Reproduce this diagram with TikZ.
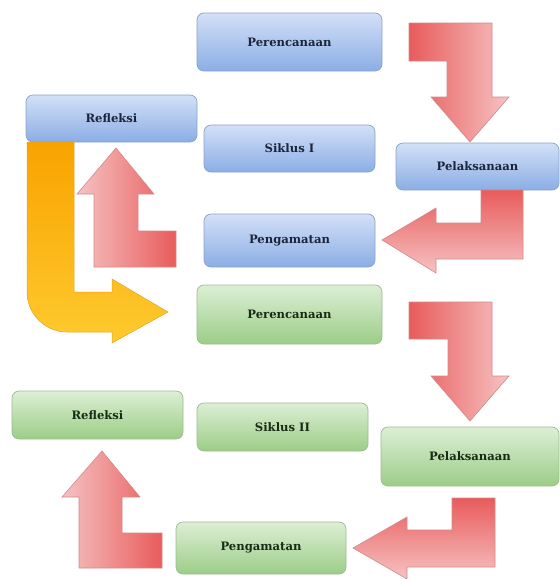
\documentclass[tikz,border=0pt]{standalone}
\usepackage{fontspec}
\setmainfont{DejaVu Serif}
\definecolor{bluetop}{HTML}{D3E0F7}
\definecolor{bluebot}{HTML}{8BAEE5}
\definecolor{blueline}{HTML}{8AA2C8}
\definecolor{bluetext}{HTML}{1B253C}
\definecolor{greentop}{HTML}{DCEFD5}
\definecolor{greenbot}{HTML}{9CCD87}
\definecolor{greenline}{HTML}{9FBA92}
\definecolor{greentext}{HTML}{182C15}
\definecolor{arrred}{HTML}{E95B5B}
\definecolor{arrpale}{HTML}{F6C2C2}
\definecolor{arrline}{HTML}{D08A8A}
\definecolor{ortop}{HTML}{F9A300}
\definecolor{orbot}{HTML}{FECA2E}
\definecolor{orline}{HTML}{E2A32A}
\begin{document}
\begin{tikzpicture}[x=1pt,y=-1pt,
  boxbase/.style={rectangle, rounded corners=7pt, line width=0.7pt, inner sep=0pt,
    font=\fontsize{11.6}{13}\selectfont\bfseries},
  bluebox/.style={boxbase, draw=blueline, top color=bluetop, bottom color=bluebot, text=bluetext},
  greenbox/.style={boxbase, draw=greenline, top color=greentop, bottom color=greenbot, text=greentext},
  arrowlr/.style={draw=arrline, line width=0.6pt, left color=arrred, right color=arrpale},
  arrowrl/.style={draw=arrline, line width=0.6pt, left color=arrpale, right color=arrred},
  arrowtb/.style={draw=arrline, line width=0.6pt, top color=arrred, bottom color=arrpale},
  orarrow/.style={draw=orline, line width=0.5pt, top color=ortop, bottom color=orbot}]
\useasboundingbox (0,0) rectangle (560,579);
% blue cycle
\node[bluebox, minimum width=185pt, minimum height=58pt] (p1) at (289.5,42) {Perencanaan};
\node[bluebox, minimum width=171pt, minimum height=47pt] (r1) at (111.5,118.5) {Refleksi};
\node[bluebox, minimum width=171pt, minimum height=47pt] (s1) at (289.5,148.5) {Siklus I};
\node[bluebox, minimum width=163pt, minimum height=47pt] (l1) at (477.5,166.5) {Pelaksanaan};
\node[bluebox, minimum width=171pt, minimum height=53pt] (g1) at (289.5,240.5) {Pengamatan};
% green cycle
\node[greenbox, minimum width=185pt, minimum height=59pt] (p2) at (289.5,314.5) {Perencanaan};
\node[greenbox, minimum width=171pt, minimum height=48pt] (r2) at (97.5,415) {Refleksi};
\node[greenbox, minimum width=171pt, minimum height=48pt] (s2) at (282.5,427) {Siklus II};
\node[greenbox, minimum width=178pt, minimum height=59pt] (l2) at (470,456.5) {Pelaksanaan};
\node[greenbox, minimum width=170pt, minimum height=52pt] (g2) at (261,548) {Pengamatan};
% block arrows, cycle I
\path[arrowlr] (409,23) -- (492,23) -- (492,97) -- (509,97) -- (470,142) -- (431,97)
  -- (447,97) -- (447,61) -- (409,61) -- cycle;
\path[arrowtb] (523,190) -- (523,259) -- (436,259) -- (436,273) -- (382,240) -- (436,208)
  -- (436,223) -- (481,223) -- (481,190) -- cycle;
\path[arrowrl] (116,148) -- (154,194) -- (138,194) -- (138,231) -- (176,231) -- (176,267)
  -- (94,267) -- (94,194) -- (77,194) -- cycle;
% orange arrow to cycle II
\path[orarrow] (27,142) -- (74,142) -- (74,292) -- (112,292) -- (112,279) -- (168,312)
  -- (112,343) -- (112,332) -- (67,332) .. controls (45,332) and (27,314) .. (27,292) -- cycle;
% block arrows, cycle II
\path[arrowlr] (409,302) -- (492,302) -- (492,376) -- (509,376) -- (470,421) -- (431,376)
  -- (448,376) -- (448,339) -- (409,339) -- cycle;
\path[arrowtb] (495,498) -- (495,567) -- (407,567) -- (407,579) -- (353,548) -- (407,517)
  -- (407,530) -- (452,530) -- (452,498) -- cycle;
\path[arrowrl] (102,451) -- (140,497) -- (122,497) -- (122,533) -- (162,533) -- (162,568)
  -- (79,568) -- (79,497) -- (62,497) -- cycle;
\end{tikzpicture}
\end{document}
